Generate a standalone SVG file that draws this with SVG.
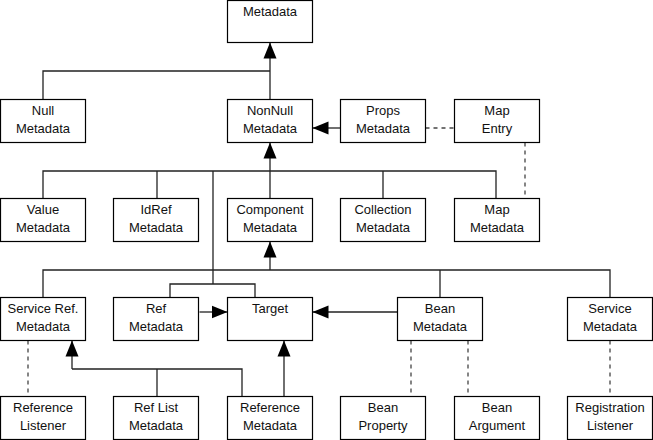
<svg xmlns="http://www.w3.org/2000/svg" width="653" height="440" viewBox="0 0 653 440">
<style>
.box{fill:#fff;stroke:#000;stroke-width:1.2}
text{font-family:"Liberation Sans",Arial,sans-serif;font-size:13px;fill:#111;text-anchor:middle}
.c{fill:none;stroke:#222;stroke-width:1.3}
.d{fill:none;stroke:#444;stroke-width:1.3;stroke-dasharray:4 4}
</style>
<defs>
<marker id="ah" markerUnits="userSpaceOnUse" markerWidth="18" markerHeight="14" refX="16" refY="7" orient="auto">
<path d="M0,0.5 L16,7 L0,13.5 Z" fill="#000"/>
</marker>
</defs>
<g id="connectors">
<path class="c" d="M43,99.5 V71 H270"/>
<path class="c" d="M270,99.5 V42.5" marker-end="url(#ah)"/>
<path class="c" d="M340.5,128 H312.5" marker-end="url(#ah)"/>
<path class="d" d="M425.5,128 H454.5"/>
<path class="d" d="M525,142.5 V198.5"/>
<path class="c" d="M43,198.5 V171 H496 V198.5"/>
<path class="c" d="M157,171 V198.5"/>
<path class="c" d="M383,171 V198.5"/>
<path class="c" d="M213,171 V284"/>
<path class="c" d="M270,198.5 V142.5" marker-end="url(#ah)"/>
<path class="c" d="M43,297.5 V270 H610 V297.5"/>
<path class="c" d="M440,270 V297.5"/>
<path class="c" d="M270,270 V241.5" marker-end="url(#ah)"/>
<path class="c" d="M170,297.5 V284 H255 V297.5"/>
<path class="c" d="M199.5,312 H227.5" marker-end="url(#ah)"/>
<path class="c" d="M397.5,312 H312.5" marker-end="url(#ah)"/>
<path class="d" d="M28,340.5 V396.5"/>
<path class="d" d="M411,340.5 V396.5"/>
<path class="d" d="M468,340.5 V396.5"/>
<path class="d" d="M610,340.5 V396.5"/>
<path class="c" d="M72,369 H242 V396.5"/>
<path class="c" d="M157,369 V396.5"/>
<path class="c" d="M72,369 V340.5" marker-end="url(#ah)"/>
<path class="c" d="M284,396.5 V340.5" marker-end="url(#ah)"/>
</g>
<g id="metadata"><rect class="box" x="227.5" y="0.5" width="85" height="42"/><text x="270" y="16">Metadata</text></g>
<g id="null"><rect class="box" x="0.5" y="99.5" width="85" height="43"/><text x="43" y="115">Null</text><text x="43" y="133">Metadata</text></g>
<g id="nonnull"><rect class="box" x="227.5" y="99.5" width="85" height="43"/><text x="270" y="115">NonNull</text><text x="270" y="133">Metadata</text></g>
<g id="props"><rect class="box" x="340.5" y="99.5" width="85" height="43"/><text x="383" y="115">Props</text><text x="383" y="133">Metadata</text></g>
<g id="mapentry"><rect class="box" x="454.5" y="99.5" width="85" height="43"/><text x="497" y="115">Map</text><text x="497" y="133">Entry</text></g>
<g id="value"><rect class="box" x="0.5" y="198.5" width="85" height="43"/><text x="43" y="214">Value</text><text x="43" y="232">Metadata</text></g>
<g id="idref"><rect class="box" x="113.5" y="198.5" width="85" height="43"/><text x="156" y="214">IdRef</text><text x="156" y="232">Metadata</text></g>
<g id="component"><rect class="box" x="227.5" y="198.5" width="85" height="43"/><text x="270" y="214">Component</text><text x="270" y="232">Metadata</text></g>
<g id="collection"><rect class="box" x="340.5" y="198.5" width="85" height="43"/><text x="383" y="214">Collection</text><text x="383" y="232">Metadata</text></g>
<g id="map"><rect class="box" x="454.5" y="198.5" width="85" height="43"/><text x="497" y="214">Map</text><text x="497" y="232">Metadata</text></g>
<g id="serviceref"><rect class="box" x="0.5" y="297.5" width="85" height="43"/><text x="43" y="313">Service Ref.</text><text x="43" y="331">Metadata</text></g>
<g id="ref"><rect class="box" x="113.5" y="297.5" width="85" height="43"/><text x="156" y="313">Ref</text><text x="156" y="331">Metadata</text></g>
<g id="target"><rect class="box" x="227.5" y="297.5" width="85" height="43"/><text x="270" y="313">Target</text></g>
<g id="bean"><rect class="box" x="397.5" y="297.5" width="85" height="43"/><text x="440" y="313">Bean</text><text x="440" y="331">Metadata</text></g>
<g id="service"><rect class="box" x="567.5" y="297.5" width="85" height="43"/><text x="610" y="313">Service</text><text x="610" y="331">Metadata</text></g>
<g id="reflistener"><rect class="box" x="0.5" y="396.5" width="85" height="43"/><text x="43" y="412">Reference</text><text x="43" y="430">Listener</text></g>
<g id="reflist"><rect class="box" x="113.5" y="396.5" width="85" height="43"/><text x="156" y="412">Ref List</text><text x="156" y="430">Metadata</text></g>
<g id="reference"><rect class="box" x="227.5" y="396.5" width="85" height="43"/><text x="270" y="412">Reference</text><text x="270" y="430">Metadata</text></g>
<g id="beanproperty"><rect class="box" x="340.5" y="396.5" width="85" height="43"/><text x="383" y="412">Bean</text><text x="383" y="430">Property</text></g>
<g id="beanargument"><rect class="box" x="454.5" y="396.5" width="85" height="43"/><text x="497" y="412">Bean</text><text x="497" y="430">Argument</text></g>
<g id="reglistener"><rect class="box" x="567.5" y="396.5" width="85" height="43"/><text x="610" y="412">Registration</text><text x="610" y="430">Listener</text></g>
</svg>
